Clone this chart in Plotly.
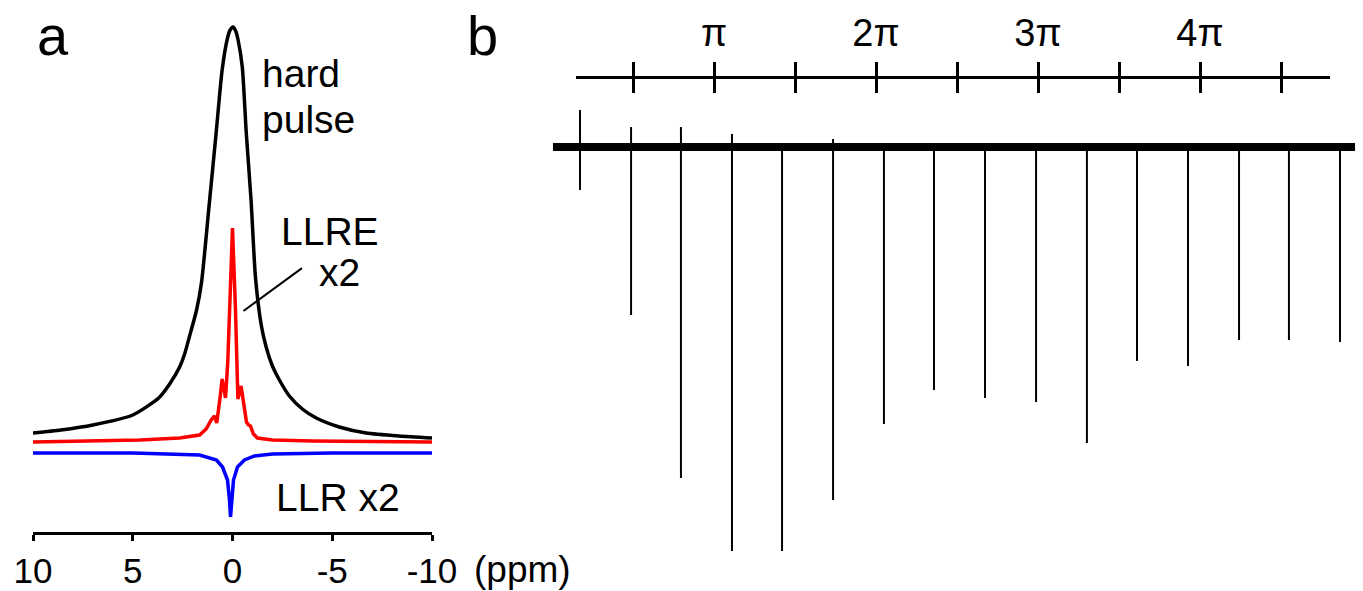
import plotly.graph_objects as go

W, H = 1363, 591
FONT = "Liberation Sans"

# ---------------- Panel a: spectra (ppm vs intensity, a.u.) ----------------
hard_ppm = [10.0, 8.6, 7.0, 5.0, 3.7, 3.15, 2.65, 2.4, 2.15, 1.8, 1.55, 1.18, 0.82, 0.52, 0.25, 0.12,
            -0.02, -0.16, -0.28, -0.49, -0.69, -0.93, -1.15, -1.44, -1.7, -2.0, -2.35, -2.85,
            -3.5, -4.2, -5.35, -6.7, -8.35, -10.0]
hard_int = [99, 102, 107, 117, 134, 148, 165, 178, 196, 222, 250, 325, 399, 462, 494, 502,
            505, 501, 492, 465, 399, 332, 255, 207, 184, 166, 152, 136,
            123, 114, 105, 99, 96, 94]

llre_ppm = [10.0, 6.65, 4.65, 2.65, 1.65, 1.32, 1.07, 0.9, 0.79, 0.62, 0.52, 0.35, 0.24, 0.15,
            0.0, -0.15, -0.2, -0.27, -0.43, -0.57, -0.7, -0.8, -0.9, -1.05, -1.25, -2.0, -4.0, -10.0]
llre_int = [90, 91, 92, 94, 97, 103, 112, 116, 109, 135, 153, 134, 169, 219,
            304, 222, 169, 133, 146, 127, 110, 107, 106, 98, 94, 92, 91, 90]

llr_ppm = [10.0, 5.0, 1.65, 0.8, 0.5, 0.25, 0.15, 0.1, 0.03, -0.05, -0.25, -0.6, -1.1, -2.0, -5.0, -10.1]
llr_int = [79, 79, 77, 72, 65, 52, 32, 15, 32, 52, 65, 72, 76, 78, 79, 79]

ppm_ticks = [10, 5, 0, -5, -10]
ppm_ticktext = ["10", "5", "0", "-5", "-10"]

# ---------------- Panel b: signal vs flip angle (units of pi) ----------------
spike_pos = [0.173, 0.488, 0.796, 1.111, 1.420, 1.735, 2.049, 2.358, 2.673, 2.988,
             3.302, 3.611, 3.926, 4.241, 4.549, 4.864]
spike_depth = [-43, -168, -331, -404, -404, -353, -277, -243, -251, -255,
               -296, -214, -219, -193, -193, -195]
spike_overshoot = [37, 20, 20, 13, 4, 8, 4, 4, 4, 4, 4, 4, 4, 4, 4, 4]
signal_start, signal_end = 0.006, 4.957
baseline_level = 0

angle_ticks = [0.5, 1.0, 1.5, 2.0, 2.5, 3.0, 3.5, 4.0, 4.5]
angle_ticktext = ["", "π", "", "2π", "", "3π", "", "4π", ""]


def px_x(px):
    return px / W


def px_y(py):
    return 1 - py / H


fig = go.Figure()

fig.add_trace(go.Scatter(x=hard_ppm, y=hard_int, mode="lines",
                         line=dict(color="black", width=3.5, shape="spline", smoothing=0.6),
                         xaxis="x", yaxis="y", hoverinfo="skip"))
fig.add_trace(go.Scatter(x=llre_ppm, y=llre_int, mode="lines", line=dict(color="#ff0000", width=3.5),
                         xaxis="x", yaxis="y", hoverinfo="skip"))
fig.add_trace(go.Scatter(x=llr_ppm, y=llr_int, mode="lines", line=dict(color="#0000ff", width=3.5),
                         xaxis="x", yaxis="y", hoverinfo="skip"))

# panel b baseline
fig.add_trace(go.Scatter(x=[signal_start, signal_end], y=[baseline_level, baseline_level], mode="lines",
                         line=dict(color="black", width=8), xaxis="x2", yaxis="y2", hoverinfo="skip"))
# panel b spikes
sx, sy = [], []
for p, d, o in zip(spike_pos, spike_depth, spike_overshoot):
    sx += [p, p, None]
    sy += [o, d, None]
fig.add_trace(go.Scatter(x=sx, y=sy, mode="lines", line=dict(color="black", width=2),
                         xaxis="x2", yaxis="y2", hoverinfo="skip", connectgaps=False))
# dummy traces so the flip-angle axes render
fig.add_trace(go.Scatter(x=[], y=[], xaxis="x3", yaxis="y2", hoverinfo="skip"))
fig.add_trace(go.Scatter(x=[], y=[], xaxis="x4", yaxis="y2", hoverinfo="skip"))

x0b, x1b = 552, 1362  # pixel extent of panel b data axis (0..5 pi)


def ang(px):
    return (px - x0b) / (x1b - x0b) * 5


fig.update_layout(
    width=W, height=H, margin=dict(l=0, r=0, t=0, b=0, pad=0, autoexpand=False),
    paper_bgcolor="white", plot_bgcolor="rgba(0,0,0,0)", showlegend=False,
    font=dict(family=FONT, color="black"),
    xaxis=dict(domain=[px_x(33), px_x(432)], range=[10, -10], anchor="y", automargin=False,
               tickmode="array", tickvals=ppm_ticks, ticktext=ppm_ticktext,
               showline=True, linewidth=3, linecolor="black", ticks="outside",
               ticklen=6, tickwidth=3, tickcolor="black", showgrid=False, zeroline=False,
               tickfont=dict(size=35, family=FONT, color="black"), ticklabelstandoff=0),
    yaxis=dict(domain=[px_y(532), px_y(20)], range=[0, 512], visible=False, automargin=False),
    xaxis2=dict(domain=[px_x(x0b), px_x(x1b)], range=[0, 5], anchor="y2", visible=False, automargin=False),
    yaxis2=dict(domain=[px_y(560), px_y(100)], range=[-413, 47], visible=False, automargin=False),
    xaxis3=dict(domain=[px_x(576), px_x(1330)], range=[ang(576), ang(1330)], anchor="free",
                position=px_y(77), side="top", tickmode="array", tickvals=angle_ticks,
                ticktext=angle_ticktext, showline=True, linewidth=3, linecolor="black",
                ticks="outside", ticklen=14, tickwidth=3, tickcolor="black",
                showgrid=False, zeroline=False, automargin=False,
                tickfont=dict(size=38, family=FONT, color="black"), ticklabelstandoff=1),
    xaxis4=dict(overlaying="x3", range=[ang(576), ang(1330)], anchor="free",
                position=px_y(77), side="top", tickmode="array", tickvals=angle_ticks,
                showticklabels=False, showline=False, ticks="inside", ticklen=15,
                tickwidth=3, tickcolor="black", showgrid=False, zeroline=False, automargin=False),
)


def label(text, x_left, y_center, size):
    fig.add_annotation(text=text, xref="paper", yref="paper", x=px_x(x_left), y=px_y(y_center),
                       xanchor="left", yanchor="middle", showarrow=False,
                       font=dict(size=size, family=FONT, color="black"), borderpad=0)


label("a", 36, 36, 56)
label("b", 466, 36, 56)
label("hard", 261, 74, 39)
label("pulse", 261, 120, 39)
label("LLRE", 280, 232, 39)
label("x2", 318, 272, 39)
label("LLR x2", 275, 497, 39)
label("(ppm)", 473, 569, 37)

# leader line from "LLRE x2" label to the red trace
fig.add_annotation(x=-0.55, y=221, xref="x", yref="y", text="", showarrow=True, arrowhead=0,
                   arrowwidth=2, arrowcolor="black", ax=60, ay=-44, axref="pixel", ayref="pixel")

fig.write_html("out.html", config={"displayModeBar": False},
               post_script="document.body.style.margin='0';document.body.style.overflow='hidden';")
